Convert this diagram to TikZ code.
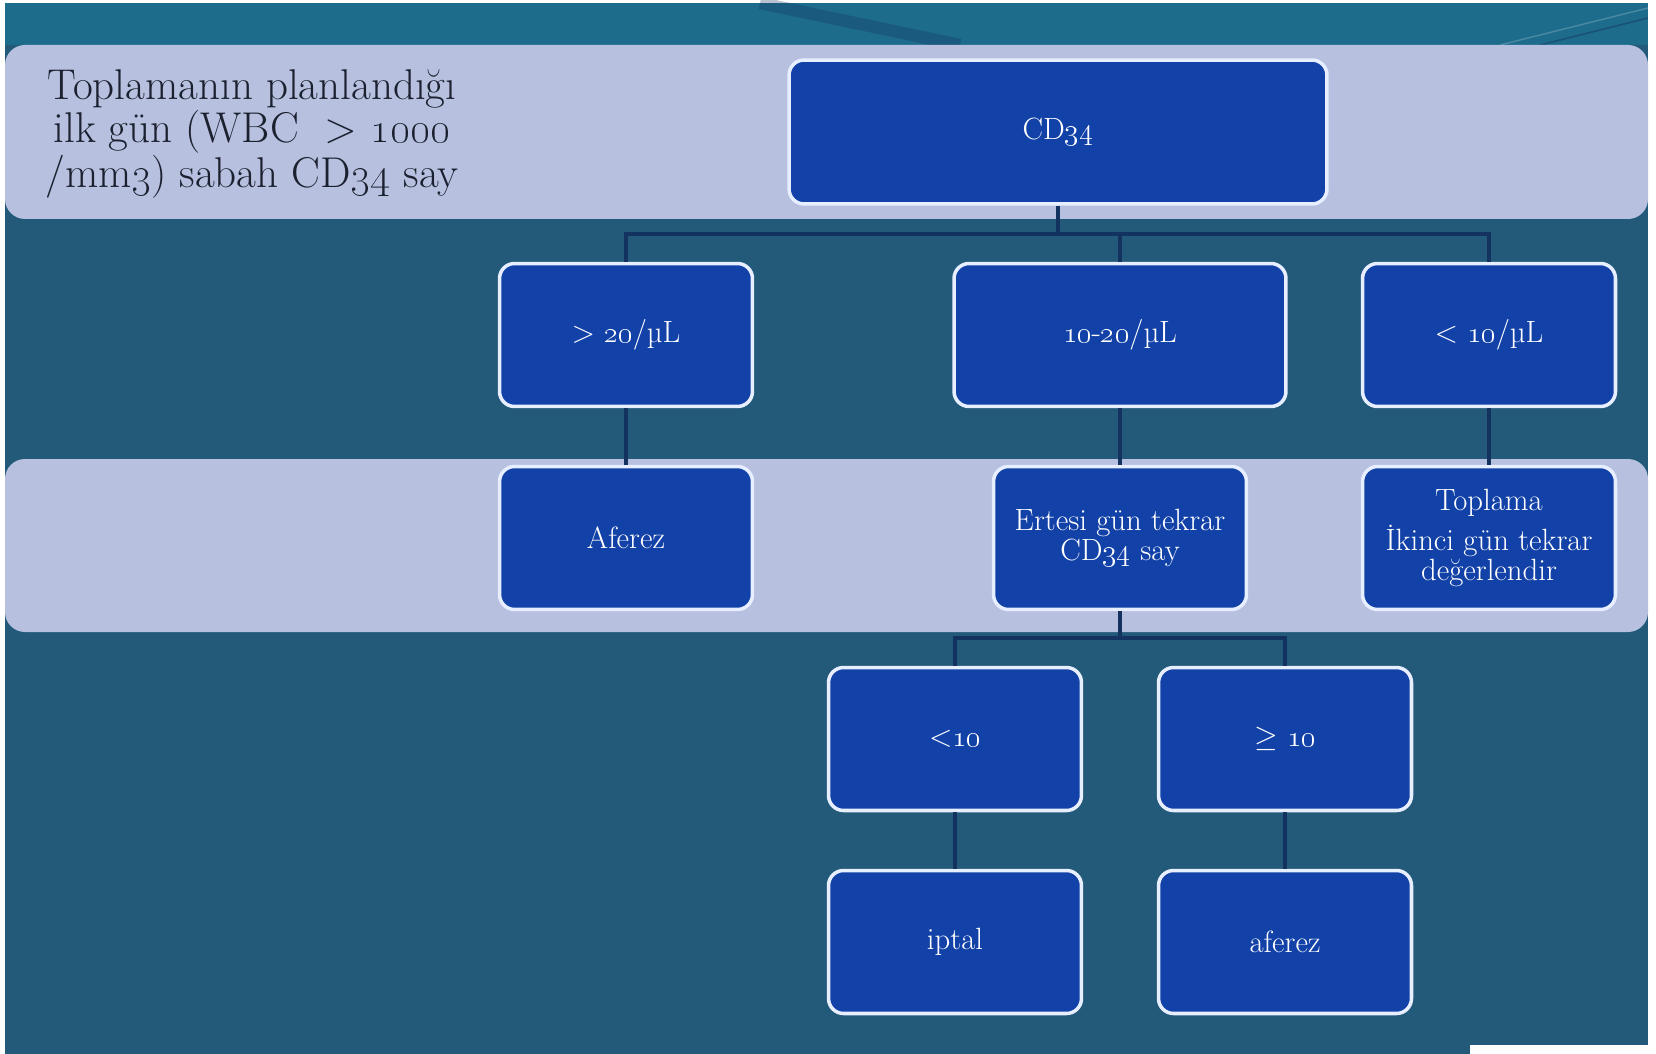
\documentclass[tikz,border=0pt]{standalone}
\usepackage{tikz}
\definecolor{slideBg}{HTML}{235A79}
\definecolor{slideTop}{HTML}{1E6C8C}
\definecolor{bandL}{HTML}{B8C0DF}
\definecolor{boxB}{HTML}{1241A8}
\definecolor{rimW}{HTML}{E6EEFF}
\definecolor{linkN}{HTML}{14325F}
\definecolor{inkD}{HTML}{1C2130}

\begin{document}
\begin{tikzpicture}[x=0.02cm, y=-0.02cm,
  box/.style={draw=rimW, line width=2pt, fill=boxB, rounded corners=0.3cm,
    text=white, align=center, inner sep=0pt,
    minimum width=5.06cm, minimum height=2.86cm,
    font=\fontsize{17.5}{17.5}\selectfont},
  link/.style={draw=linkN, line width=2.3pt},
  band/.style={fill=bandL, rounded corners=0.4cm}]
  \path[use as bounding box] (0,0) rectangle (1656,1054);

  % slide background and its streaks
  \fill[slideBg] (5,3) rectangle (1648,1054);
  \fill[slideTop] (5,3) rectangle (1648,45);
  \draw[linkN, line width=7pt, opacity=0.3] (760,3) -- (960,45);
  \draw[white, opacity=0.2, line width=0.8pt] (1500,45) -- (1648,8);
  \draw[linkN, opacity=0.4, line width=1pt] (1540,45) -- (1648,18);
  \fill[white] (1470,1045) rectangle (1656,1054);

  % light bands behind the first and third rows
  \fill[band] (5,45) rectangle (1648,219);
  \fill[band] (5,459) rectangle (1648,632);

  \node[align=center, text=inkD, font=\fontsize{24.5}{20.8}\selectfont]
    (note) at (252,134)
    {Toplamanın planlandığı\\ilk gün (WBC \ > \oldstylenums{1000}\\/mm\oldstylenums{3}) sabah CD\oldstylenums{34} say};

  \node[box, minimum width=10.76cm, minimum height=2.88cm] (cd) at (1058,132)
    {CD\oldstylenums{34}};

  \node[box] (hi) at (626,335) {> \oldstylenums{20}/µL};
  \node[box, minimum width=6.64cm] (mid) at (1120,335)
    {\oldstylenums{10}-\oldstylenums{20}/µL};
  \node[box] (lo) at (1489,335) {< \oldstylenums{10}/µL};

  \node[box] (afz) at (626,538) {Aferez};
  \node[box] (ert) at (1120,538) {Ertesi gün tekrar\\CD\oldstylenums{34} say};
  \node[box] (tpl) at (1489,538) {Toplama\\[4pt]İkinci gün tekrar\\değerlendir};

  \node[box] (lt) at (955,739) {<\oldstylenums{10}};
  \node[box] (ge) at (1285,739) {$\geq$ \oldstylenums{10}};

  \node[box] (ipt) at (955,942) {iptal};
  \node[box] (afz2) at (1285,942) {aferez};

  % tree connectors
  \coordinate (busA) at (1058,234);
  \draw[link] (cd) -- (busA);
  \foreach \n in {hi, mid, lo}
    \draw[link] (busA) -| (\n);

  \coordinate (busB) at (1120,638);
  \draw[link] (ert) -- (busB);
  \foreach \n in {lt, ge}
    \draw[link] (busB) -| (\n);

  \foreach \a/\b in {hi/afz, mid/ert, lo/tpl, lt/ipt, ge/afz2}
    \draw[link] (\a) -- (\b);
\end{tikzpicture}
\end{document}
